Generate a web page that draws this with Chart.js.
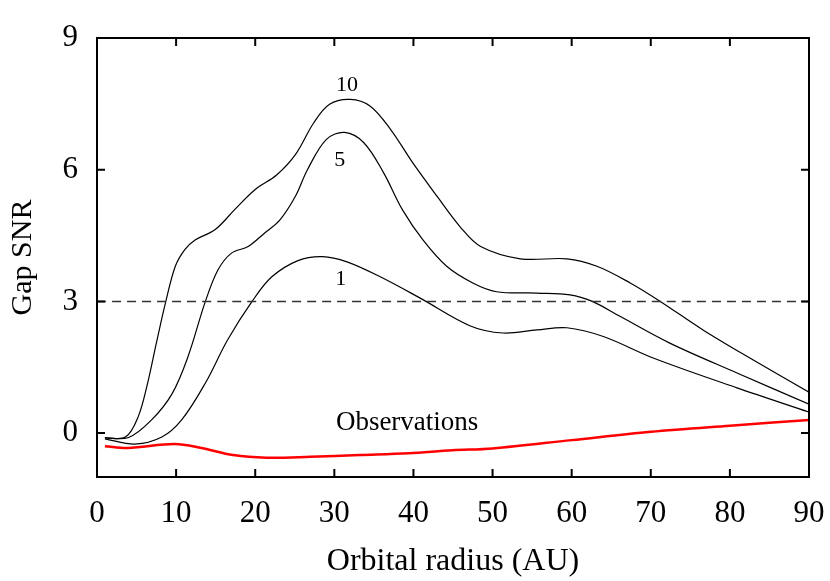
<!DOCTYPE html>
<html>
<head>
<meta charset="utf-8">
<script src="https://cdn.jsdelivr.net/npm/chart.js@4"></script>
<style>
  body { margin: 0; background: #fff; }
</style>
</head>
<body>
<canvas id="chart" width="830" height="581"></canvas>
<script>
// curve for 10 (radius in AU, gap SNR)
const r10 = [1.0, 3.6, 5.2, 6.4, 7.5, 8.7, 9.9, 11.1, 12.4, 14.9, 17.4, 20.0, 22.7, 25.1, 27.4, 29.4, 32.0, 34.5, 37.1, 39.9, 43.0, 45.9, 48.5, 53.5, 59.4, 63.2, 67.4, 71.2, 76.6, 82.9, 90];
const snr10 = [-0.11, -0.09, 0.37, 1.14, 2.05, 3.0, 3.8, 4.18, 4.4, 4.63, 5.09, 5.55, 5.88, 6.35, 7.07, 7.49, 7.6, 7.45, 6.92, 6.16, 5.39, 4.7, 4.25, 3.97, 3.97, 3.8, 3.42, 3.0, 2.35, 1.67, 0.93];

const r5 = [1.0, 4.0, 6.9, 9.5, 11.5, 13.7, 15.3, 17.0, 19.1, 21.2, 23.1, 25.1, 26.6, 29.0, 31.3, 33.7, 36.2, 38.6, 41.2, 44.2, 47.5, 50.5, 55.6, 59.8, 62.6, 66.1, 72.4, 80.9, 90];
const snr5 = [-0.11, -0.1, 0.3, 0.9, 1.74, 3.0, 3.72, 4.1, 4.25, 4.56, 4.85, 5.4, 6.0, 6.69, 6.85, 6.62, 5.94, 5.09, 4.4, 3.8, 3.42, 3.22, 3.19, 3.15, 3.0, 2.66, 2.05, 1.37, 0.66];

const r1 = [1.0, 4.8, 8.2, 10.7, 13.7, 16.5, 19.6, 22.1, 25.4, 28.5, 31.6, 35.8, 40.8, 47.2, 51.3, 55.6, 59.4, 64.0, 70.3, 80.9, 90];
const snr1 = [-0.13, -0.25, -0.09, 0.3, 1.14, 2.12, 3.0, 3.56, 3.93, 4.02, 3.9, 3.56, 3.08, 2.44, 2.28, 2.35, 2.4, 2.2, 1.71, 1.03, 0.48];

const rObs = [1.0, 3.9, 9.8, 13.2, 17.2, 21.4, 27.0, 33.2, 39.4, 44.9, 50, 60, 70, 80, 90];
const snrObs = [-0.3, -0.34, -0.25, -0.34, -0.5, -0.56, -0.54, -0.5, -0.46, -0.39, -0.35, -0.16, 0.03, 0.17, 0.3];

const threshold = 3;
const xTicks = [0, 10, 20, 30, 40, 50, 60, 70, 80, 90];
const yTicks = [0, 3, 6, 9];

// curve labels: [text, x, y, font size]
const labels = [
  ["10", 31.6, 7.93, 22],
  ["5", 30.7, 6.22, 22],
  ["1", 30.8, 3.5, 22],
  ["Observations", 39.2, 0.24, 27],
];

const serif = "'Liberation Serif', 'Times New Roman', serif";
const pts = (xs, ys) => xs.map((x, i) => ({ x, y: ys[i] }));

const frame = {
  id: "frame",
  afterDraw(chart) {
    const { ctx, chartArea: a, scales } = chart;
    const x = scales.x, y = scales.y;
    ctx.save();
    ctx.strokeStyle = "#000";
    ctx.lineWidth = 2;
    ctx.strokeRect(a.left, a.top, a.right - a.left, a.bottom - a.top);
    ctx.beginPath();
    for (const v of xTicks) {
      const px = x.getPixelForValue(v);
      ctx.moveTo(px, a.bottom); ctx.lineTo(px, a.bottom - 8);
      ctx.moveTo(px, a.top); ctx.lineTo(px, a.top + 8);
    }
    for (const v of yTicks) {
      const py = y.getPixelForValue(v);
      ctx.moveTo(a.left, py); ctx.lineTo(a.left + 8, py);
      ctx.moveTo(a.right, py); ctx.lineTo(a.right - 8, py);
    }
    ctx.stroke();
    ctx.fillStyle = "#000";
    ctx.textAlign = "center";
    ctx.textBaseline = "middle";
    for (const [t, lx, ly, size] of labels) {
      ctx.font = size + "px " + serif;
      ctx.fillText(t, x.getPixelForValue(lx), y.getPixelForValue(ly));
    }
    ctx.restore();
  },
};

const line = (data, color, width) => ({
  data,
  borderColor: color,
  borderWidth: width,
  pointRadius: 0,
  fill: false,
  tension: 0.35,
});

const config = {
  type: "line",
  data: {
    datasets: [
      Object.assign(line(pts([0, 90], [threshold, threshold]), "#333", 1.5), { borderDash: [9, 6] }),
      line(pts(r10, snr10), "#000", 1.2),
      line(pts(r5, snr5), "#000", 1.2),
      line(pts(r1, snr1), "#000", 1.2),
      line(pts(rObs, snrObs), "#ff0000", 2.5),
    ],
  },
  options: {
    responsive: false,
    animation: false,
    layout: { padding: { top: 38, right: 21, left: 0, bottom: 0 } },
    plugins: { legend: { display: false }, tooltip: { enabled: false } },
    scales: {
      x: {
        type: "linear",
        min: 0,
        max: 90,
        afterBuildTicks: (s) => { s.ticks = xTicks.map((value) => ({ value })); },
        afterFit: (s) => { s.height = 104; s.paddingLeft = 0; s.paddingRight = 0; },
        ticks: { font: { family: serif, size: 31 }, color: "#000", padding: 18, maxRotation: 0 },
        grid: { display: false, drawTicks: false },
        border: { display: false },
        title: { display: true, text: "Orbital radius (AU)", font: { family: serif, size: 32 }, color: "#000", padding: { top: 0, bottom: 0 } },
      },
      y: {
        min: -1,
        max: 9,
        afterBuildTicks: (s) => { s.ticks = yTicks.map((value) => ({ value })); },
        afterFit: (s) => { s.width = 97; s.paddingTop = 0; s.paddingBottom = 0; },
        ticks: { font: { family: serif, size: 31 }, color: "#000", padding: 19 },
        grid: { display: false, drawTicks: false },
        border: { display: false },
        title: { display: true, text: "Gap SNR", font: { family: serif, size: 30 }, color: "#000", padding: { top: 5, bottom: 0 } },
      },
    },
  },
  plugins: [frame],
};

new Chart(document.getElementById("chart"), config);
</script>
</body>
</html>
